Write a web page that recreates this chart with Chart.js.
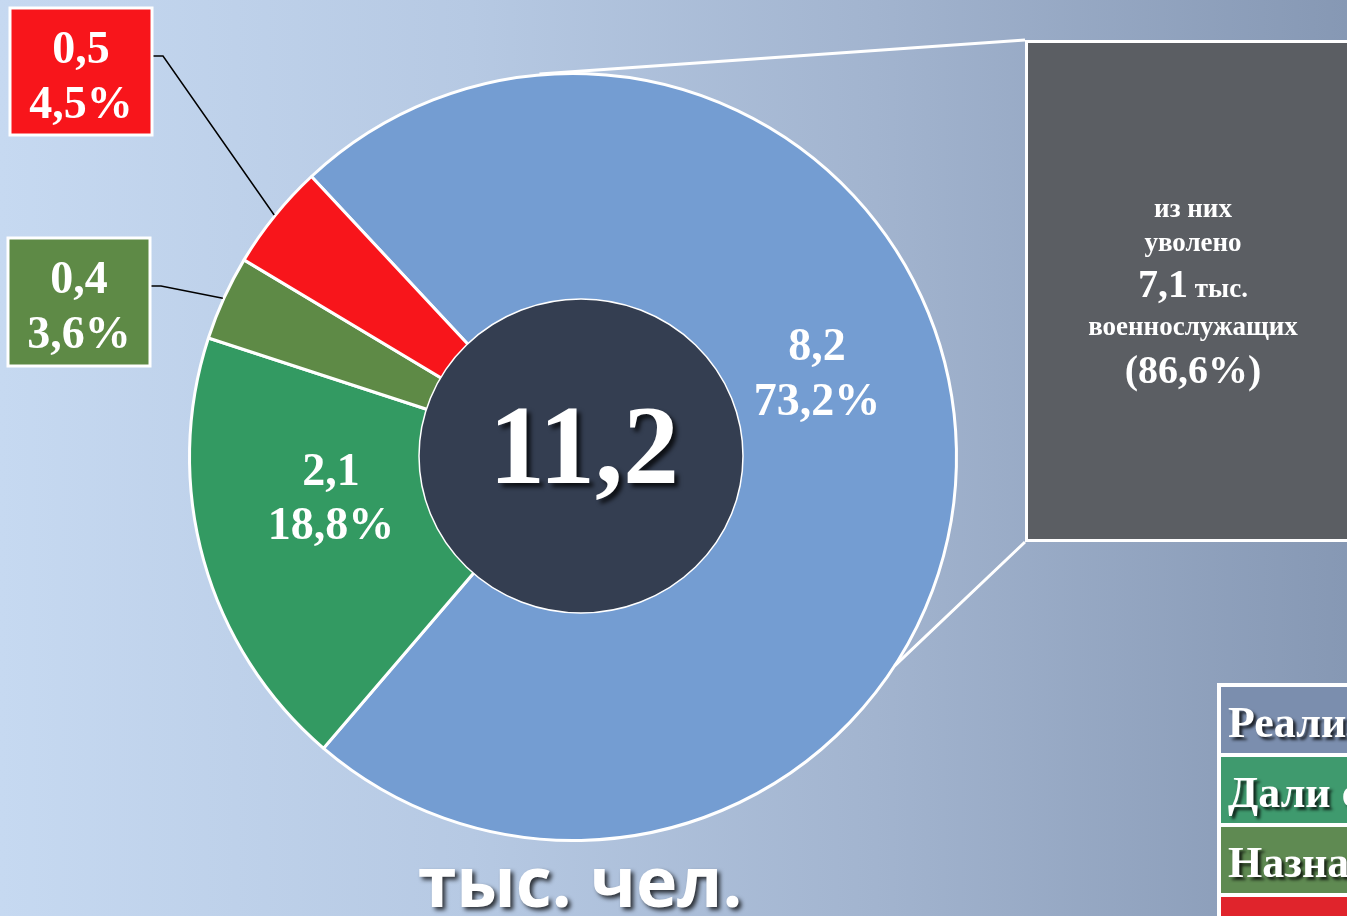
<!DOCTYPE html>
<html>
<head>
<meta charset="utf-8">
<script src="https://cdn.jsdelivr.net/npm/chart.js@4.4.0/dist/chart.umd.min.js"></script>
<style>
  html, body { margin: 0; padding: 0; overflow: hidden; }
  body { width: 1347px; height: 916px; background: linear-gradient(to right, #c6d9f1 0%, #b6c9e3 35%, #a2b4cf 65%, #8698b4 100%); }
</style>
</head>
<body>
<canvas id="pieCanvas" width="1347" height="916"></canvas>
<script>
// данные
const categories = ['Реализовали право на пенсию', 'Дали согласие на перевод', 'Назначены на должности', 'Прочие'];
const values = [8.2, 2.1, 0.4, 0.5];
const percents = [73.2, 18.8, 3.6, 4.5];
const total = 11.2;
const dismissed = 7.1;
const dismissedPercent = 86.6;

const colors = ['#749dd2', '#339a62', '#5e8a46', '#f8151b'];
const legendColors = ['#7b8eae', '#3f9a6e', '#5f8a52', '#e0242c'];

function fmt(v) {
  return v.toFixed(1).replace('.', ',');
}

// точка на окружности, угол от верха по часовой
function onCircle(cx, cy, r, deg) {
  const a = deg * Math.PI / 180;
  return { x: cx + r * Math.sin(a), y: cy - r * Math.cos(a) };
}

function shadowOn(ctx, off, blur) {
  ctx.shadowColor = 'rgba(0,0,0,0.75)';
  ctx.shadowOffsetX = off;
  ctx.shadowOffsetY = off;
  ctx.shadowBlur = blur;
}
function shadowOff(ctx) {
  ctx.shadowColor = 'transparent';
  ctx.shadowOffsetX = 0;
  ctx.shadowOffsetY = 0;
  ctx.shadowBlur = 0;
}

const decorPlugin = {
  id: 'decor',
  afterDatasetsDraw(chart) {
    const ctx = chart.ctx;
    const arc = chart.getDatasetMeta(0).data[0];
    const cx = arc.x, cy = arc.y, r = arc.outerRadius;
    const serif = '"Liberation Serif", "Times New Roman", serif';

    ctx.save();

    // линии к серому блоку
    const boxX = 1025, boxY = 40, boxB = 542;
    const p1 = onCircle(cx, cy, r + 1, -5);
    const p2 = onCircle(cx, cy, r, 123);
    ctx.strokeStyle = '#ffffff';
    ctx.lineWidth = 3;
    ctx.beginPath();
    ctx.moveTo(p1.x, p1.y);
    ctx.lineTo(boxX, boxY);
    ctx.moveTo(p2.x, p2.y);
    ctx.lineTo(boxX, boxB);
    ctx.stroke();

    // серый блок
    ctx.fillStyle = '#5b5e63';
    ctx.fillRect(boxX, boxY, 400, boxB - boxY);
    ctx.strokeRect(boxX + 1.5, boxY + 1.5, 400, boxB - boxY - 3);

    ctx.fillStyle = '#ffffff';
    ctx.textAlign = 'center';
    ctx.textBaseline = 'alphabetic';
    const bx = 1193;
    ctx.font = 'bold 27px ' + serif;
    ctx.fillText('из них', bx, 217);
    ctx.fillText('уволено', bx, 251);
    ctx.fillText('военнослужащих', bx, 335);
    // 7,1 тыс.
    ctx.font = 'bold 40px ' + serif;
    const big = fmt(dismissed);
    const wBig = ctx.measureText(big).width;
    ctx.font = 'bold 27px ' + serif;
    const small = ' тыс.';
    const wSmall = ctx.measureText(small).width;
    const sx = bx - (wBig + wSmall) / 2;
    ctx.textAlign = 'left';
    ctx.font = 'bold 40px ' + serif;
    ctx.fillText(big, sx, 297);
    ctx.font = 'bold 27px ' + serif;
    ctx.fillText(small, sx + wBig, 297);
    ctx.textAlign = 'center';
    ctx.font = 'bold 40px ' + serif;
    ctx.fillText('(' + fmt(dismissedPercent) + '%)', bx, 383);

    // центральный круг
    ctx.beginPath();
    ctx.ellipse(cx + 8, cy - 1, 162, 157, 0, 0, Math.PI * 2);
    ctx.fillStyle = '#343e51';
    ctx.fill();
    ctx.lineWidth = 1.5;
    ctx.strokeStyle = '#ffffff';
    ctx.stroke();

    ctx.fillStyle = '#ffffff';
    ctx.font = 'bold 112px ' + serif;
    shadowOn(ctx, 4, 4);
    ctx.fillText(fmt(total), cx + 11, cy + 26);
    shadowOff(ctx);

    // подписи секторов
    ctx.font = 'bold 46px ' + serif;
    ctx.fillText(fmt(values[0]), cx + 244, cy - 97);
    ctx.fillText(fmt(percents[0]) + '%', cx + 244, cy - 42);
    ctx.fillText(fmt(values[1]), cx - 242, cy + 28);
    ctx.fillText(fmt(percents[1]) + '%', cx - 242, cy + 82);

    // выноски для малых секторов
    const callouts = [
      { i: 3, x: 10, y: 8, w: 142, h: 127, ang: -51, ly: 56 },
      { i: 2, x: 8, y: 238, w: 142, h: 128, ang: -65.6, ly: 286 }
    ];
    callouts.forEach(c => {
      const pt = onCircle(cx, cy, r + 1, c.ang);
      ctx.strokeStyle = '#000000';
      ctx.lineWidth = 1.5;
      ctx.beginPath();
      ctx.moveTo(c.x + c.w, c.ly);
      ctx.lineTo(c.x + c.w + 11, c.ly);
      ctx.lineTo(pt.x, pt.y);
      ctx.stroke();

      ctx.fillStyle = colors[c.i];
      ctx.fillRect(c.x, c.y, c.w, c.h);
      ctx.strokeStyle = '#ffffff';
      ctx.lineWidth = 3;
      ctx.strokeRect(c.x, c.y, c.w, c.h);

      ctx.fillStyle = '#ffffff';
      ctx.font = 'bold 46px ' + serif;
      ctx.fillText(fmt(values[c.i]), c.x + c.w / 2, c.y + 55);
      ctx.fillText(fmt(percents[c.i]) + '%', c.x + c.w / 2, c.y + 110);
    });

    // легенда (обрезана справа)
    const lx = 1217, ly = 683, rowH = 70;
    ctx.fillStyle = '#ffffff';
    ctx.fillRect(lx, ly, 200, 300);
    categories.forEach((name, i) => {
      const y0 = ly + 4 + i * rowH;
      ctx.fillStyle = legendColors[i];
      ctx.fillRect(lx + 4, y0, 200, rowH - 4);
      ctx.fillStyle = '#ffffff';
      ctx.textAlign = 'left';
      ctx.font = 'bold 44px ' + serif;
      shadowOn(ctx, 3, 3);
      ctx.fillText(name, lx + 11, y0 + 50);
      shadowOff(ctx);
    });

    // единицы
    ctx.textAlign = 'center';
    ctx.fillStyle = '#ffffff';
    ctx.font = 'bold 70px "Open Sans", "Noto Sans", sans-serif';
    shadowOn(ctx, 3, 4);
    ctx.fillText('тыс. чел.', 580, 907);
    shadowOff(ctx);

    ctx.restore();
  }
};

const ctx = document.getElementById('pieCanvas').getContext('2d');

const config = {
  type: 'pie',
  data: {
    labels: categories,
    datasets: [{
      data: values,
      backgroundColor: colors,
      borderColor: '#ffffff',
      borderWidth: 3,
      hoverOffset: 0
    }]
  },
  options: {
    responsive: false,
    animation: false,
    rotation: -43,
    layout: {
      padding: { left: 188, top: 72, right: 389, bottom: 74 }
    },
    plugins: {
      legend: { display: false },
      tooltip: { enabled: false }
    }
  },
  plugins: [decorPlugin]
};

const myChart = new Chart(ctx, config);
</script>
</body>
</html>
